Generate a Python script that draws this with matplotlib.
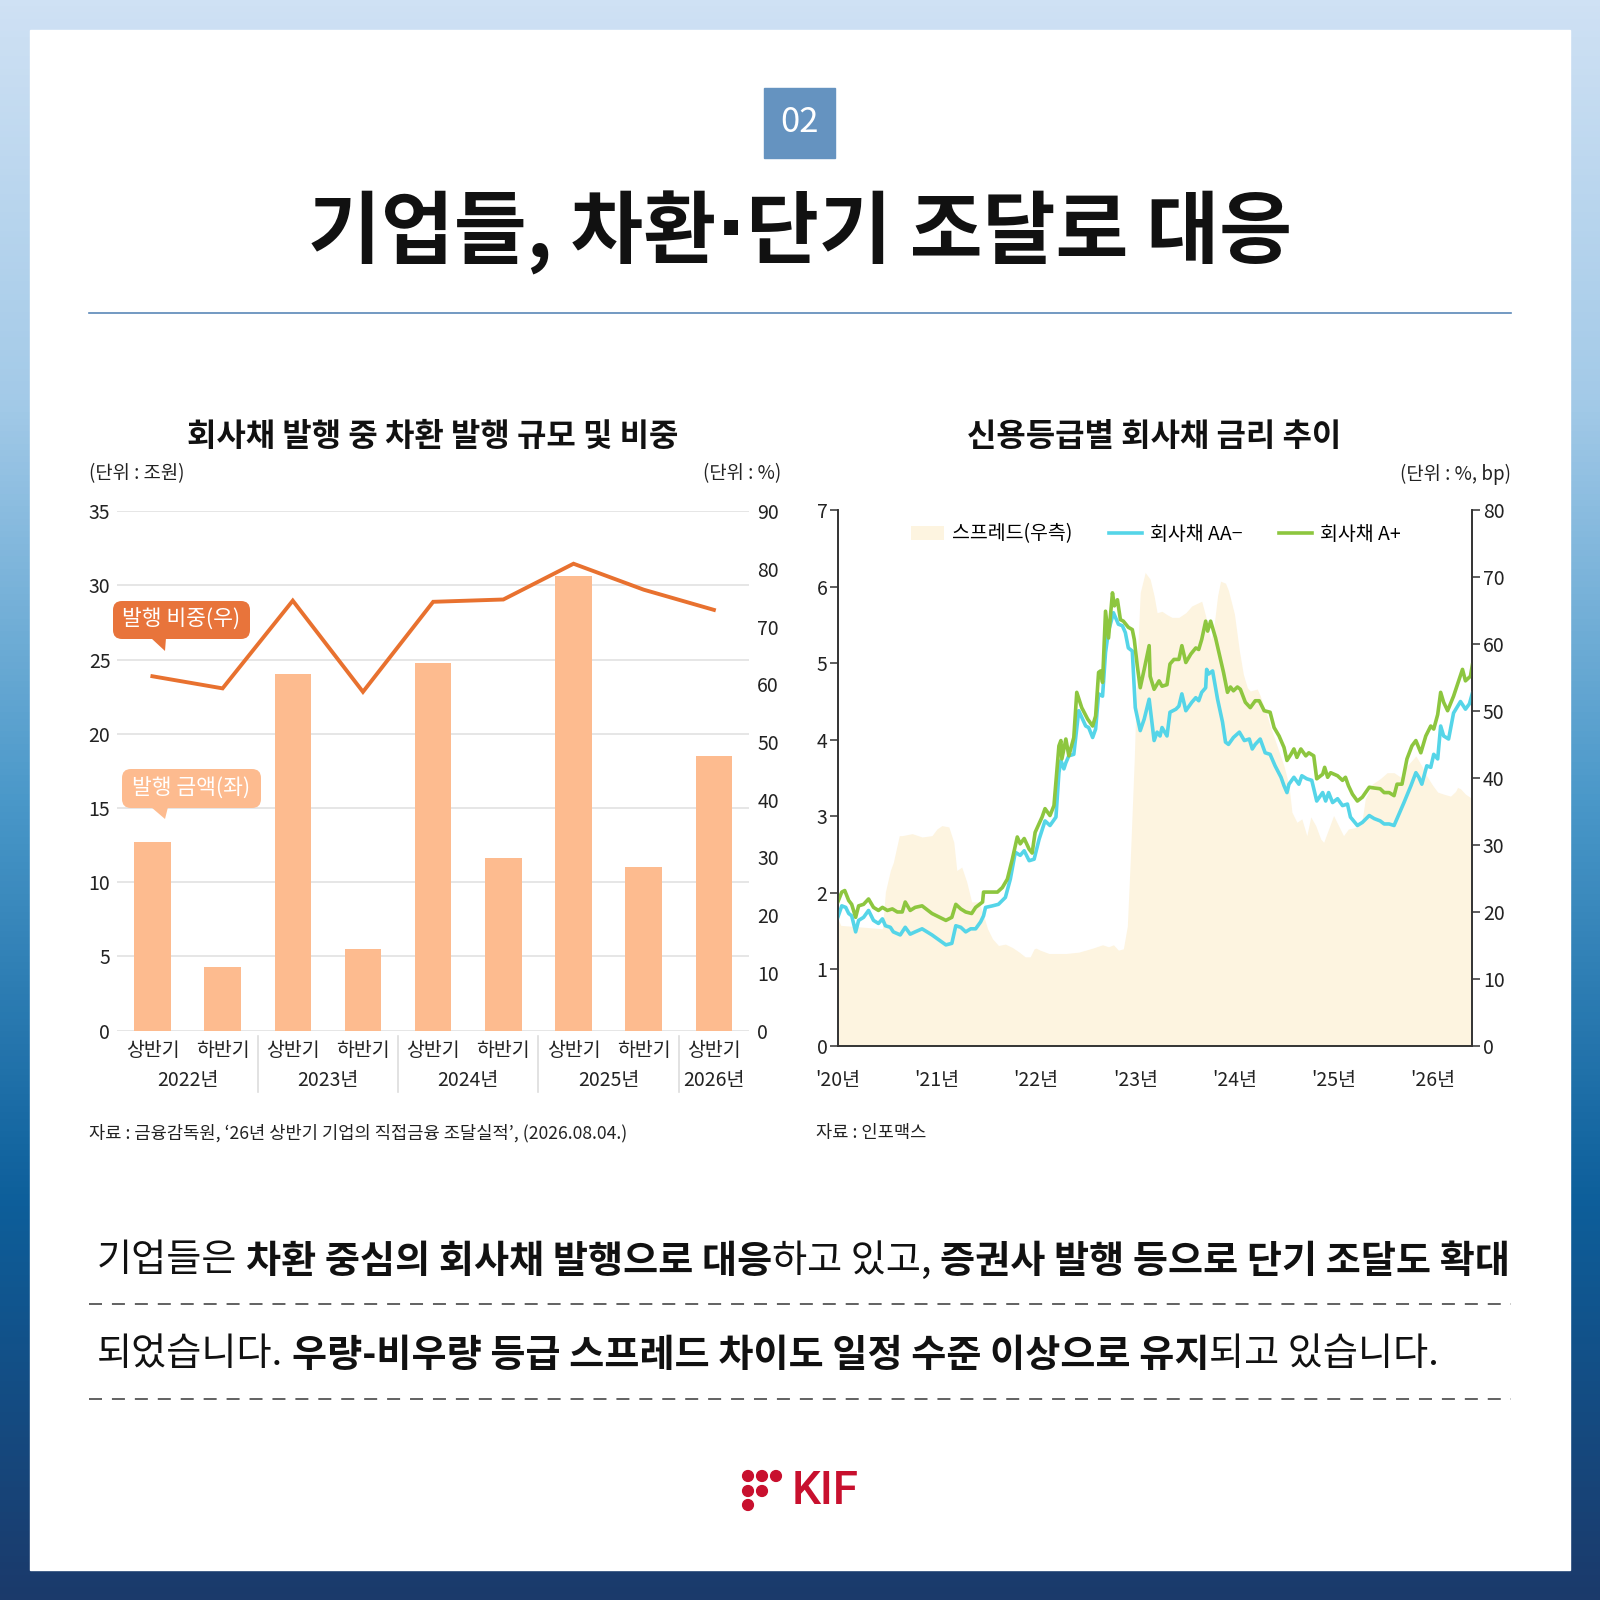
import numpy as np
import matplotlib
matplotlib.use("Agg")
import matplotlib.pyplot as plt
import matplotlib.transforms as mtransforms
from matplotlib.colors import LinearSegmentedColormap
from matplotlib.patches import Rectangle, FancyBboxPatch, Polygon, Circle, Patch
from matplotlib.lines import Line2D

plt.rcParams['font.family'] = ['Noto Sans CJK KR', 'DejaVu Sans']

# ---------------- left chart: 차환 발행 규모 및 비중 ----------------
HALVES = ['상반기', '하반기', '상반기', '하반기', '상반기', '하반기', '상반기', '하반기', '상반기']
YEAR_LABELS = ['2022년', '2023년', '2024년', '2025년', '2026년']
YEAR_CENTERS = [0.5, 2.5, 4.5, 6.5, 8]
ISSUE_AMOUNT = [12.7, 4.3, 24.0, 5.5, 24.8, 11.6, 30.6, 11.0, 18.5]   # 조원 (left)
ISSUE_SHARE = [61.4, 59.3, 74.5, 58.7, 74.3, 74.7, 80.9, 76.4, 72.9]  # % (right)

# ---------------- right chart: 신용등급별 회사채 금리 ----------------
AA_X = [2020.00, 2020.04, 2020.08, 2020.11, 2020.14, 2020.18, 2020.21, 2020.26, 2020.31, 2020.36,
        2020.41, 2020.45, 2020.48, 2020.53, 2020.56, 2020.63, 2020.68, 2020.73, 2020.78, 2020.85,
        2020.95, 2021.09, 2021.15, 2021.19, 2021.24, 2021.29, 2021.34, 2021.39, 2021.44, 2021.47,
        2021.49, 2021.56, 2021.62, 2021.69, 2021.74, 2021.79, 2021.84, 2021.88, 2021.93, 2021.98,
        2022.03, 2022.09, 2022.14, 2022.20, 2022.23, 2022.25, 2022.28, 2022.30, 2022.33, 2022.38,
        2022.43, 2022.50, 2022.53, 2022.57, 2022.60, 2022.63, 2022.67, 2022.70, 2022.73, 2022.78,
        2022.83, 2022.87, 2022.90, 2022.93, 2022.97, 2023.00, 2023.05, 2023.09, 2023.14, 2023.19,
        2023.22, 2023.25, 2023.27, 2023.32, 2023.35, 2023.41, 2023.44, 2023.47, 2023.51, 2023.57,
        2023.61, 2023.64, 2023.67, 2023.71, 2023.72, 2023.74, 2023.78, 2023.83, 2023.88, 2023.91,
        2023.94, 2023.99, 2024.05, 2024.10, 2024.15, 2024.18, 2024.21, 2024.26, 2024.31, 2024.36,
        2024.41, 2024.47, 2024.50, 2024.53, 2024.55, 2024.60, 2024.65, 2024.68, 2024.73, 2024.78,
        2024.83, 2024.89, 2024.92, 2024.95, 2024.99, 2025.04, 2025.09, 2025.14, 2025.17, 2025.24,
        2025.29, 2025.36, 2025.41, 2025.47, 2025.51, 2025.56, 2025.61, 2025.66, 2025.71, 2025.78,
        2025.83, 2025.86, 2025.89, 2025.94, 2025.98, 2026.01, 2026.05, 2026.08, 2026.11, 2026.16,
        2026.21, 2026.28, 2026.33, 2026.37, 2026.40]
AA_Y = [1.68, 1.83, 1.81, 1.73, 1.70, 1.49, 1.64, 1.68, 1.77, 1.64,
        1.60, 1.66, 1.57, 1.55, 1.49, 1.45, 1.55, 1.46, 1.49, 1.53,
        1.45, 1.32, 1.34, 1.57, 1.55, 1.49, 1.53, 1.53, 1.62, 1.70,
        1.81, 1.83, 1.85, 1.94, 2.18, 2.53, 2.49, 2.55, 2.42, 2.44,
        2.70, 2.94, 2.88, 2.99, 3.57, 3.73, 3.62, 3.70, 3.79, 3.81,
        4.38, 4.18, 4.16, 4.03, 4.14, 4.60, 4.57, 5.14, 5.42, 5.66,
        5.51, 5.49, 5.40, 5.20, 5.16, 4.42, 4.12, 4.27, 4.53, 3.99,
        4.10, 4.05, 4.16, 4.05, 4.36, 4.40, 4.44, 4.60, 4.38, 4.49,
        4.55, 4.51, 4.62, 4.68, 4.92, 4.86, 4.90, 4.53, 4.23, 3.97,
        3.94, 4.03, 4.10, 3.99, 4.01, 3.88, 3.94, 4.01, 3.83, 3.81,
        3.66, 3.51, 3.40, 3.31, 3.42, 3.51, 3.42, 3.53, 3.49, 3.47,
        3.20, 3.31, 3.20, 3.31, 3.18, 3.23, 3.14, 3.16, 2.99, 2.88,
        2.92, 3.01, 2.97, 2.94, 2.90, 2.90, 2.88, 3.03, 3.18, 3.40,
        3.57, 3.51, 3.42, 3.66, 3.64, 3.81, 3.75, 4.18, 4.05, 4.01,
        4.35, 4.50, 4.40, 4.47, 4.61]

AP_X = [2020.00, 2020.04, 2020.07, 2020.11, 2020.14, 2020.18, 2020.21, 2020.26, 2020.31, 2020.36,
        2020.41, 2020.45, 2020.50, 2020.55, 2020.60, 2020.65, 2020.68, 2020.73, 2020.78, 2020.85,
        2020.95, 2021.09, 2021.15, 2021.19, 2021.24, 2021.29, 2021.35, 2021.39, 2021.46, 2021.47,
        2021.54, 2021.61, 2021.66, 2021.71, 2021.76, 2021.81, 2021.84, 2021.88, 2021.93, 2021.96,
        2021.99, 2022.06, 2022.09, 2022.14, 2022.18, 2022.23, 2022.25, 2022.26, 2022.30, 2022.33,
        2022.38, 2022.41, 2022.46, 2022.52, 2022.57, 2022.60, 2022.63, 2022.65, 2022.67, 2022.70,
        2022.73, 2022.77, 2022.79, 2022.82, 2022.85, 2022.88, 2022.93, 2022.97, 2022.99, 2023.02,
        2023.05, 2023.09, 2023.14, 2023.15, 2023.19, 2023.24, 2023.27, 2023.32, 2023.35, 2023.39,
        2023.44, 2023.47, 2023.51, 2023.56, 2023.61, 2023.64, 2023.67, 2023.71, 2023.73, 2023.76,
        2023.81, 2023.86, 2023.89, 2023.93, 2023.96, 2023.99, 2024.03, 2024.06, 2024.11, 2024.16,
        2024.21, 2024.25, 2024.30, 2024.36, 2024.40, 2024.45, 2024.50, 2024.53, 2024.57, 2024.60,
        2024.63, 2024.67, 2024.72, 2024.75, 2024.80, 2024.83, 2024.89, 2024.91, 2024.94, 2024.97,
        2025.04, 2025.09, 2025.12, 2025.15, 2025.19, 2025.24, 2025.29, 2025.36, 2025.41, 2025.47,
        2025.51, 2025.56, 2025.61, 2025.64, 2025.69, 2025.74, 2025.79, 2025.83, 2025.88, 2025.93,
        2025.98, 2026.01, 2026.05, 2026.08, 2026.11, 2026.15, 2026.21, 2026.30, 2026.33, 2026.38,
        2026.40]
AP_Y = [1.88, 2.01, 2.03, 1.90, 1.85, 1.68, 1.83, 1.85, 1.92, 1.81,
        1.77, 1.81, 1.77, 1.79, 1.75, 1.75, 1.88, 1.77, 1.81, 1.83,
        1.73, 1.64, 1.68, 1.85, 1.79, 1.75, 1.73, 1.81, 1.88, 2.01,
        2.01, 2.01, 2.07, 2.18, 2.44, 2.73, 2.64, 2.71, 2.57, 2.52,
        2.79, 2.99, 3.10, 3.01, 3.14, 3.92, 3.99, 3.75, 4.01, 3.79,
        4.03, 4.62, 4.42, 4.27, 4.18, 4.31, 4.88, 4.90, 4.75, 5.68,
        5.33, 5.92, 5.75, 5.83, 5.57, 5.55, 5.47, 5.44, 5.31, 4.97,
        4.68, 4.92, 5.23, 4.83, 4.66, 4.77, 4.70, 4.72, 4.99, 5.05,
        5.05, 5.23, 5.01, 5.12, 5.20, 5.18, 5.31, 5.55, 5.42, 5.55,
        5.33, 5.05, 4.88, 4.62, 4.69, 4.64, 4.69, 4.66, 4.49, 4.42,
        4.51, 4.51, 4.38, 4.36, 4.16, 4.05, 3.90, 3.73, 3.81, 3.88,
        3.77, 3.88, 3.79, 3.83, 3.79, 3.49, 3.55, 3.64, 3.51, 3.57,
        3.53, 3.47, 3.51, 3.40, 3.29, 3.20, 3.25, 3.38, 3.37, 3.36,
        3.31, 3.31, 3.27, 3.42, 3.42, 3.75, 3.92, 3.99, 3.83, 4.05,
        4.18, 4.14, 4.33, 4.62, 4.49, 4.38, 4.57, 4.92, 4.77, 4.83,
        4.98]

SPREAD_X = [2020.00, 2020.03, 2020.28, 2020.45, 2020.48, 2020.53, 2020.56, 2020.62, 2020.65, 2020.75,
            2020.85, 2020.95, 2021.00, 2021.05, 2021.12, 2021.17, 2021.20, 2021.25, 2021.30, 2021.35,
            2021.42, 2021.46, 2021.51, 2021.56, 2021.62, 2021.69, 2021.76, 2021.83, 2021.89, 2021.94,
            2021.98, 2022.00, 2022.04, 2022.13, 2022.30, 2022.43, 2022.57, 2022.67, 2022.73, 2022.78,
            2022.83, 2022.88, 2022.92, 2022.95, 2022.99, 2023.02, 2023.05, 2023.10, 2023.15, 2023.19,
            2023.22, 2023.27, 2023.32, 2023.37, 2023.44, 2023.51, 2023.57, 2023.64, 2023.67, 2023.71,
            2023.76, 2023.79, 2023.83, 2023.86, 2023.91, 2023.94, 2024.00, 2024.05, 2024.09, 2024.13,
            2024.16, 2024.23, 2024.26, 2024.33, 2024.36, 2024.43, 2024.50, 2024.55, 2024.58, 2024.63,
            2024.68, 2024.73, 2024.77, 2024.82, 2024.87, 2024.90, 2024.95, 2025.00, 2025.05, 2025.10,
            2025.15, 2025.22, 2025.29, 2025.32, 2025.39, 2025.47, 2025.54, 2025.61, 2025.68, 2025.74,
            2025.83, 2025.89, 2025.94, 2026.00, 2026.05, 2026.11, 2026.18, 2026.23, 2026.25, 2026.28,
            2026.33, 2026.40]
SPREAD_Y = [19.0, 18.0, 17.7, 17.5, 23.0, 26.2, 27.4, 31.4, 31.4, 31.7,
            31.2, 31.4, 32.4, 32.9, 32.7, 30.4, 26.2, 26.7, 24.5, 21.5,
            21.5, 20.0, 17.5, 16.0, 15.0, 15.2, 14.7, 14.0, 13.3, 13.3,
            14.5, 14.6, 14.3, 13.8, 13.8, 14.0, 14.6, 15.1, 14.8, 15.1,
            14.3, 14.5, 17.9, 27.9, 42.9, 57.7, 67.7, 70.7, 69.7, 67.2,
            64.7, 64.9, 64.4, 64.0, 64.0, 64.7, 65.7, 66.2, 66.4, 64.2,
            60.7, 62.2, 67.2, 69.4, 69.1, 68.0, 64.5, 59.0, 55.5, 53.5,
            53.0, 53.3, 52.3, 49.3, 47.8, 44.8, 41.8, 38.9, 34.9, 33.4,
            33.9, 31.4, 34.2, 32.9, 30.9, 30.4, 32.4, 34.4, 32.9, 31.4,
            32.4, 32.6, 33.9, 36.9, 39.1, 39.9, 40.8, 40.8, 40.1, 41.8,
            43.3, 41.8, 40.3, 38.9, 37.9, 37.6, 37.3, 38.0, 38.6, 38.4,
            37.6, 36.9]
RATE_YEARS = [2020, 2021, 2022, 2023, 2024, 2025, 2026]
RATE_YEAR_LABELS = ["'20년", "'21년", "'22년", "'23년", "'24년", "'25년", "'26년"]

# colours
BAR_COLOR = '#fdbb8f'
LINE_COLOR = '#e8712f'
SPREAD_COLOR = '#fdf4e0'
AA_COLOR = '#55d5e8'
AP_COLOR = '#8dc63f'
TEXT = '#222222'

W = 1600


def frac_box(x0, y0, x1, y1):
    """pixel box (top-left origin) -> figure fraction [l, b, w, h]"""
    return [x0 / W, 1 - y1 / W, (x1 - x0) / W, (y1 - y0) / W]


fig = plt.figure(figsize=(16, 16), dpi=100)
renderer = fig.canvas.get_renderer()

# background and frame
bg = fig.add_axes([0, 0, 1, 1])
bg.set_xlim(0, W)
bg.set_ylim(W, 0)
bg.axis('off')
grad = np.linspace(0, 1, 256).reshape(-1, 1)
cmap = LinearSegmentedColormap.from_list(
    'bgblue', ['#cfe1f4', '#a3cae8', '#4a98c9', '#0d5f9b', '#1b3a6b'])
bg.imshow(grad, cmap=cmap, extent=[0, W, W, 0], aspect='auto', zorder=0)
bg.add_patch(Rectangle((30, 30), 1540, 1540, color='white', zorder=1))


def text_width(ax, s, size, weight, family=None):
    kw = {'family': family} if family else {}
    t = ax.text(0, 0, s, fontsize=size, fontweight=weight, **kw)
    w = t.get_window_extent(renderer).width
    t.remove()
    return w


# header
bg.add_patch(Rectangle((764, 88), 71, 70, color='#6593c0', zorder=2))
bg.text(799.5, 123, '02', color='white', fontsize=25, ha='center', va='center', zorder=3)

# title, with a narrow middle dot between the two halves
TITLE_PARTS = [('기업들, 차환', None), ('·', ['DejaVu Sans']), ('단기 조달로 대응', None)]
title_size = 57
widths = [text_width(bg, s, title_size, 'bold', fam) for s, fam in TITLE_PARTS]
tx = 800 - sum(widths) / 2
for (s, fam), w in zip(TITLE_PARTS, widths):
    kw = {'family': fam} if fam else {}
    bg.text(tx, 233, s, fontsize=title_size, fontweight='bold', color='#111111',
            ha='left', va='center', zorder=3, **kw)
    tx += w
bg.plot([89, 1511], [313, 313], color='#5a88b8', lw=1.2, zorder=3)

# chart titles / units / sources
bg.text(433, 437, '회사채 발행 중 차환 발행 규모 및 비중', fontsize=23, fontweight='bold',
        color='#111111', ha='center', va='center', zorder=3)
bg.text(1154, 437, '신용등급별 회사채 금리 추이', fontsize=23, fontweight='bold',
        color='#111111', ha='center', va='center', zorder=3)
bg.text(89, 474, '(단위 : 조원)', fontsize=13.5, color=TEXT, ha='left', va='center', zorder=3)
bg.text(781, 474, '(단위 : %)', fontsize=13.5, color=TEXT, ha='right', va='center', zorder=3)
bg.text(1511, 474, '(단위 : %, bp)', fontsize=13.5, color=TEXT, ha='right', va='center', zorder=3)
bg.text(89, 1133, '자료 : 금융감독원, ‘26년 상반기 기업의 직접금융 조달실적’, (2026.08.04.)',
        fontsize=12.7, color=TEXT, ha='left', va='center', zorder=3)
bg.text(816, 1133, '자료 : 인포맥스', fontsize=12.7, color=TEXT, ha='left', va='center', zorder=3)

# ---------------- left chart ----------------
ax1 = fig.add_axes(frac_box(117.3, 511.2, 749, 1030.6))
ax1.patch.set_visible(False)
x = np.arange(len(ISSUE_AMOUNT))
ax1.bar(x, ISSUE_AMOUNT, width=0.52, color=BAR_COLOR, zorder=2)
ax1.set_xlim(-0.5, len(ISSUE_AMOUNT) - 0.5)
ax1.set_ylim(0, 35)
ax1.set_yticks(np.arange(0, 36, 5))
ax1.grid(axis='y', color='#e4e4e4', lw=1.3, zorder=0)
ax1.set_axisbelow(True)
for s in ax1.spines.values():
    s.set_visible(False)
ax1.set_xticks(x)
ax1.set_xticklabels(HALVES)
ax1.tick_params(axis='x', length=0, pad=7, labelsize=14, labelcolor=TEXT)
ax1.tick_params(axis='y', length=0, pad=5, labelsize=14, labelcolor=TEXT)

trans1 = mtransforms.blended_transform_factory(ax1.transData, ax1.transAxes)
for xc, lab in zip(YEAR_CENTERS, YEAR_LABELS):
    ax1.text(xc, -0.096, lab, transform=trans1, fontsize=14, color=TEXT,
             ha='center', va='center', clip_on=False)
for xs in [1.5, 3.5, 5.5, 7.5]:
    ax1.plot([xs, xs], [-0.01, -0.118], transform=trans1, color='#dddddd', lw=1.2, clip_on=False)

ax1r = ax1.twinx()
ax1r.plot(x, ISSUE_SHARE, color=LINE_COLOR, lw=2.8, solid_joinstyle='miter', zorder=3)
ax1r.set_ylim(0, 90)
ax1r.set_yticks(np.arange(0, 91, 10))
for s in ax1r.spines.values():
    s.set_visible(False)
ax1r.tick_params(axis='y', length=0, pad=6, labelsize=14, labelcolor=TEXT)

# ---------------- right chart ----------------
ax2 = fig.add_axes(frac_box(837.8, 510.2, 1472.4, 1045.9))
ax2r = ax2.twinx()
ax2.set_zorder(ax2r.get_zorder() + 1)
ax2.patch.set_visible(False)
ax2r.patch.set_visible(False)

ax2r.fill_between(SPREAD_X, SPREAD_Y, 0, color=SPREAD_COLOR, lw=0)
ax2r.set_ylim(0, 80)
ax2r.set_yticks(np.arange(0, 81, 10))

ax2.plot(AA_X, AA_Y, color=AA_COLOR, lw=2.6)
ax2.plot(AP_X, AP_Y, color=AP_COLOR, lw=2.6)
ax2.set_ylim(0, 7)
ax2.set_yticks(np.arange(0, 8, 1))
ax2.set_xlim(2020, 2026.40)
ax2.set_xticks(RATE_YEARS)
ax2.set_xticklabels(RATE_YEAR_LABELS)

for a in (ax2, ax2r):
    a.spines['top'].set_visible(False)
    for side in ('left', 'right', 'bottom'):
        a.spines[side].set_color('#333333')
        a.spines[side].set_linewidth(1.2)
ax2.tick_params(axis='y', direction='out', length=5.5, width=1.1, color='#333333',
                pad=2, labelsize=14, labelcolor=TEXT)
ax2r.tick_params(axis='y', direction='out', length=5.5, width=1.1, color='#333333',
                 pad=2, labelsize=14, labelcolor=TEXT)
ax2.tick_params(axis='x', length=0, pad=17, labelsize=14, labelcolor=TEXT)

handles = [Patch(facecolor=SPREAD_COLOR, edgecolor='none'),
           Line2D([], [], color=AA_COLOR, lw=2.6),
           Line2D([], [], color=AP_COLOR, lw=2.6)]
ax2.legend(handles, ['스프레드(우측)', '회사채 AA−', '회사채 A+'], ncol=3, frameon=False,
           loc='upper left', bbox_to_anchor=(0.115, 0.975), borderpad=0, borderaxespad=0,
           handlelength=1.7, handleheight=0.7, handletextpad=0.4, columnspacing=1.9,
           prop={'size': 14})

# ---------------- overlay: callouts, body text, logo ----------------
fg = fig.add_axes([0, 0, 1, 1])
fg.set_xlim(0, W)
fg.set_ylim(W, 0)
fg.axis('off')
fg.patch.set_visible(False)


def callout(box, tip, color, label):
    x0, y0, x1, y1 = box
    fg.add_patch(FancyBboxPatch((x0, y0), x1 - x0, y1 - y0,
                                boxstyle='round,pad=0,rounding_size=9', fc=color, ec='none'))
    fg.add_patch(Polygon(tip, closed=True, fc=color, ec='none'))
    fg.text((x0 + x1) / 2, (y0 + y1) / 2, label, color='white', fontsize=15.5,
            ha='center', va='center')


callout((113, 601, 250, 639), [(151, 638), (166, 638), (165, 651)], '#e8743b', '발행 비중(우)')
callout((122, 769, 261, 808), [(151, 807), (168, 807), (165, 819)], '#fdbb8f', '발행 금액(좌)')

LINE1 = [('기업들은 ', False), ('차환 중심의 회사채 발행으로 대응', True), ('하고 있고, ', False),
         ('증권사 발행 등으로 단기 조달도 확대', True)]
LINE2 = [('되었습니다. ', False), ('우량-비우량 등급 스프레드 차이도 일정 수준 이상으로 유지', True),
         ('되고 있습니다.', False)]


def rich_line(x, y, parts, size, draw=True):
    space_w = text_width(fg, '가 가', size, 'normal') - text_width(fg, '가가', size, 'normal')
    for txt, bold in parts:
        weight = 'bold' if bold else 'light'
        core = txt.rstrip(' ')
        if draw:
            fg.text(x, y, core, fontsize=size, fontweight=weight, color='#111111',
                    ha='left', va='center')
        x += text_width(fg, core, size, weight) + space_w * (len(txt) - len(core))
    return x


base = 26
end = rich_line(97, 1261, LINE1, base, draw=False)
body_size = base * (1511 - 97) / (end - 97)
rich_line(97, 1261, LINE1, body_size)
rich_line(97, 1355, LINE2, body_size)
for yy in (1304, 1399):
    fg.plot([89, 1511], [yy, yy], color='#555555', lw=1.3, ls=(0, (7.2, 5.5)))

# logo
LOGO_RED = '#c8102e'
for cx, cy in [(748, 1476), (762, 1476), (776, 1476), (748, 1491), (762, 1491), (748, 1505)]:
    fg.add_patch(Circle((cx, cy), 5.4, color=LOGO_RED))
fg.text(792, 1491, 'KIF', color=LOGO_RED, fontsize=33, fontweight='medium',
        family=['Roboto', 'DejaVu Sans'], ha='left', va='center')

fig.savefig('out.png', dpi=100)
